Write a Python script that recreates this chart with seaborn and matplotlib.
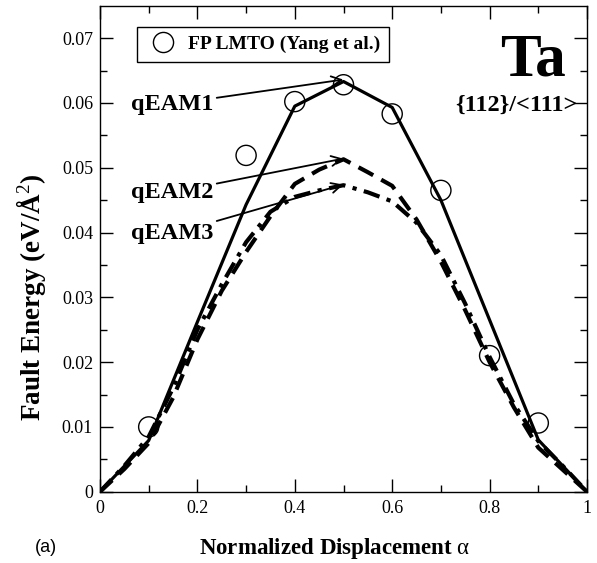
import numpy as np
import pandas as pd
import matplotlib
matplotlib.use("Agg")
import matplotlib.pyplot as plt
import seaborn as sns
from matplotlib.lines import Line2D

# ---- data ----
ref_x = [0.1, 0.3, 0.4, 0.5, 0.6, 0.7, 0.8, 0.9]
ref_y = [0.0100, 0.0519, 0.0602, 0.0628, 0.0583, 0.0465, 0.0210, 0.0106]

q1_x = [0.0, 0.1, 0.2, 0.3, 0.4, 0.5, 0.6, 0.7, 0.8, 0.9, 1.0]
q1_y = [0.0, 0.0079, 0.0262, 0.0443, 0.0595, 0.0633, 0.0593, 0.0450, 0.0265, 0.0080, 0.0]

q_x = [0.0, 0.05, 0.1, 0.15, 0.2, 0.25, 0.3, 0.35, 0.4, 0.45, 0.5,
       0.55, 0.6, 0.65, 0.7, 0.75, 0.8, 0.85, 0.9, 0.95, 1.0]
q2_y = [0.0, 0.0035, 0.0075, 0.0145, 0.0235, 0.0310, 0.0370, 0.0425, 0.0475, 0.0497, 0.0513,
        0.0493, 0.0472, 0.0420, 0.0355, 0.0280, 0.0200, 0.0130, 0.0068, 0.0034, 0.0]
q3_y = [0.0, 0.0040, 0.0085, 0.0160, 0.0250, 0.0320, 0.0385, 0.0432, 0.0455, 0.0465, 0.0473,
        0.0462, 0.0448, 0.0415, 0.0365, 0.0290, 0.0208, 0.0135, 0.0078, 0.0040, 0.0]

x_ticks = [0, 0.2, 0.4, 0.6, 0.8, 1.0]
x_tick_labels = ["0", "0.2", "0.4", "0.6", "0.8", "1"]
y_ticks = [0, 0.01, 0.02, 0.03, 0.04, 0.05, 0.06, 0.07]
y_tick_labels = ["0", "0.01", "0.02", "0.03", "0.04", "0.05", "0.06", "0.07"]

labels = ["qEAM1", "qEAM2", "qEAM3"]
label_text_y = [0.0598, 0.0462, 0.0398]
arrow_head_y = [0.0636, 0.0514, 0.0474]

df = pd.concat([
    pd.DataFrame({"x": q1_x, "y": q1_y, "model": "qEAM1"}),
    pd.DataFrame({"x": q_x, "y": q2_y, "model": "qEAM2"}),
    pd.DataFrame({"x": q_x, "y": q3_y, "model": "qEAM3"}),
])
ref = pd.DataFrame({"x": ref_x, "y": ref_y})

sns.set_theme(style="white")
plt.rcParams["font.family"] = ["Liberation Serif", "DejaVu Serif"]
plt.rcParams["mathtext.fontset"] = "custom"
plt.rcParams["mathtext.rm"] = "Liberation Serif"
plt.rcParams["mathtext.it"] = "Liberation Serif:italic"
for k in ["text.color", "axes.labelcolor", "xtick.color", "ytick.color", "axes.edgecolor"]:
    plt.rcParams[k] = "black"

fig = plt.figure(figsize=(5.97, 5.63), dpi=100)
ax = fig.add_axes([100 / 597, (563 - 491.7) / 563, 487 / 597, 486 / 563])

styles = {"qEAM1": ("-", 2.3), "qEAM2": ((0, (4.0, 2.2)), 3.0), "qEAM3": ((0, (4.0, 1.8, 1.0, 1.8)), 3.0)}
for m in labels:
    sub = df[df.model == m]
    ls, lw = styles[m]
    sns.lineplot(data=sub, x="x", y="y", ax=ax, color="black", lw=lw,
                 linestyle=ls, sort=False, estimator=None)

sns.scatterplot(data=ref, x="x", y="y", ax=ax, s=210, facecolor="none",
                edgecolor="black", linewidth=1.0, marker="o", zorder=5)

ax.set_xlim(0, 1)
ax.set_ylim(0, 0.075)
ax.set_xticks(x_ticks)
ax.set_xticklabels(x_tick_labels)
ax.set_yticks(y_ticks)
ax.set_yticklabels(y_tick_labels)
ax.set_xticks(np.arange(0.1, 1.0, 0.2), minor=True)
ax.set_yticks(np.arange(0.005, 0.075, 0.01), minor=True)
ax.tick_params(which="both", direction="in", top=True, right=True, bottom=True, left=True,
               colors="black", width=1.0, labelsize=13)
ax.tick_params(which="major", length=9.5)
ax.tick_params(axis="x", which="major", pad=6)
ax.tick_params(axis="y", which="major", pad=5)
ax.tick_params(which="minor", length=5)
for s in ax.spines.values():
    s.set_color("black")
    s.set_linewidth(1.0)

ax.set_xlabel("Normalized Displacement $\\mathrm{\\alpha}$", fontsize=16.5, fontweight="bold")
ax.xaxis.label.set_va("center")
ax.xaxis.set_label_coords(0.4825, -0.116)
ax.set_ylabel("Fault Energy (eV/Å$^2$)", fontsize=19.5, fontweight="bold")
ax.yaxis.set_label_coords(-0.106, 0.40)

# legend box
h = [Line2D([], [], marker="o", markersize=14.5, markerfacecolor="none", markeredgecolor="black",
            linestyle="none", markeredgewidth=1.0)]
leg = ax.legend(h, ["FP LMTO (Yang et al.)"], loc="upper left", bbox_to_anchor=(0.076, 0.957),
                frameon=True, fancybox=False, edgecolor="black", framealpha=1,
                prop={"family": "Liberation Serif", "weight": "bold", "size": 14},
                handletextpad=0.37, borderpad=0.45, handlelength=1.8, borderaxespad=0)
leg.get_frame().set_linewidth(1.0)

ax.text(0.956, 0.945, "Ta", transform=ax.transAxes, ha="right", va="top",
        fontsize=44, fontweight="bold")
ax.text(0.98, 0.795, "{112}/<111>", transform=ax.transAxes, ha="right", va="center",
        fontsize=17.5, fontweight="bold")

for lab, ty, hy in zip(labels, label_text_y, arrow_head_y):
    ax.annotate(lab, xy=(0.4996, hy), xytext=(0.233, ty), ha="right", va="center",
                fontsize=17.5, fontweight="bold",
                arrowprops=dict(arrowstyle="->", color="black", lw=1.3,
                                shrinkA=0, shrinkB=0, mutation_scale=18))

fig.text(0.059, 0.027, "(a)", fontsize=13, family="Liberation Sans", ha="left", va="center")

fig.savefig("out.png", dpi=100)
